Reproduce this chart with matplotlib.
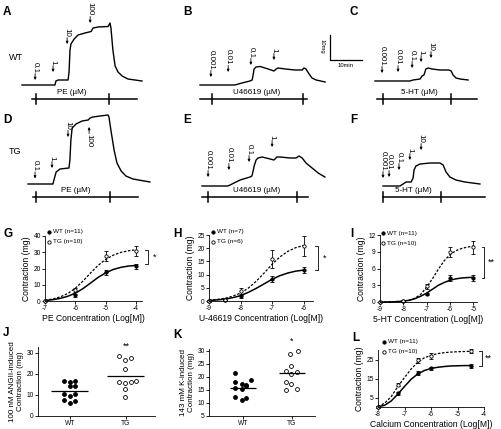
import numpy as np
import matplotlib
matplotlib.use("Agg")
import matplotlib.pyplot as plt
from matplotlib.lines import Line2D

plt.rcParams['font.family'] = ['Liberation Sans', 'DejaVu Sans']
plt.rcParams['axes.unicode_minus'] = False

# ======================= DATA =======================
# Isometric tension traces: time (min) and tension (mg)
pe_wt_t = [0, 10.3, 10.6, 11.3, 14.4, 14.7, 15.0, 15.3, 16.3, 17.5, 19.7, 21.6, 22.2, 23.8, 26.9, 27.5, 27.8, 28.4, 29.1, 30.0, 31.3, 33.1, 35.3, 37.5]
pe_wt_mg = [0, 0, 1.6, 2.0, 2.0, 5.2, 14.0, 16.4, 18.4, 20.0, 20.8, 21.4, 22.8, 23.2, 23.4, 24.8, 22.8, 14.0, 7.6, 5.2, 3.6, 2.4, 2.0, 1.6]
pe_tg_t = [0, 7.8, 8.1, 8.8, 10.0, 12.8, 13.1, 13.4, 13.8, 15.0, 16.9, 18.8, 19.4, 20.3, 22.5, 25.0, 25.3, 25.9, 26.9, 27.8, 29.1, 30.6, 32.8, 38.1]
pe_tg_mg = [0, 0, 1.6, 4.8, 6.0, 6.4, 9.6, 17.6, 22.4, 24.0, 25.2, 25.6, 26.4, 26.8, 27.2, 27.6, 26.8, 21.6, 13.6, 8.4, 5.2, 3.2, 2.0, 0.8]
u_wt_t = [0, 10.9, 13.1, 15.6, 16.3, 16.6, 16.9, 17.5, 18.8, 21.3, 23.1, 23.8, 24.4, 26.6, 29.7, 31.9, 32.5, 33.1, 34.1, 35.0, 36.3, 39.1]
u_wt_mg = [0, 0, 0.8, 1.6, 2.0, 4.0, 6.4, 7.2, 7.4, 6.4, 5.6, 6.4, 6.8, 6.4, 6.0, 6.0, 6.8, 6.4, 4.4, 2.8, 2.0, 1.2]
u_tg_t = [0, 8.1, 9.4, 11.9, 15.0, 15.6, 15.9, 16.3, 16.9, 17.5, 18.8, 21.3, 22.5, 23.4, 24.4, 27.5, 29.4, 30.3, 31.3, 32.5, 34.4, 36.3, 38.4]
u_tg_mg = [0, 0, 0.8, 2.4, 3.6, 4.0, 5.6, 8.0, 10.4, 11.2, 11.6, 10.8, 10.4, 11.6, 11.6, 11.2, 11.2, 12.0, 11.2, 9.2, 7.2, 5.2, 3.6]
ht_wt_t = [0, 10.9, 11.9, 14.1, 14.7, 15.3, 15.6, 15.9, 16.6, 17.8, 20.3, 23.1, 23.8, 24.4, 25.3, 26.6, 29.1]
ht_wt_mg = [0, 0, 0.4, 0.8, 2.0, 2.4, 3.6, 4.8, 5.2, 4.8, 4.4, 4.4, 4.0, 2.4, 1.2, 0.8, 0.4]
ht_tg_t = [0, 5.3, 6.3, 7.2, 8.8, 9.4, 9.7, 10.3, 11.6, 14.7, 17.8, 18.8, 19.7, 20.9, 22.8, 25.6, 30.3]
ht_tg_mg = [0, 0, 0.8, 1.6, 1.6, 3.2, 6.4, 8.0, 8.8, 9.2, 9.2, 8.4, 5.6, 3.6, 2.4, 1.6, 0.8]

# Agonist additions (µM): label, time (min)
pe_wt_doses = ['0.1', '1', '10', '100']
pe_wt_dose_t = [4.1, 9.7, 14.1, 21.3]
pe_tg_doses = ['0.1', '1', '10', '100']
pe_tg_dose_t = [2.2, 7.5, 12.5, 19.1]
u_wt_doses = ['0.001', '0.01', '0.1', '1']
u_wt_dose_t = [3.4, 8.8, 15.9, 23.1]
u_tg_doses = ['0.001', '0.01', '0.1', '1']
u_tg_dose_t = [1.9, 8.4, 14.7, 21.9]
ht_wt_doses = ['0.001', '0.01', '0.1', '1', '10']
ht_wt_dose_t = [2.2, 7.2, 11.6, 14.4, 17.5]
ht_tg_doses = ['0.001', '0.01', '0.1', '1', '10']
ht_tg_dose_t = [0.0, 1.9, 5.0, 8.4, 11.9]

# Concentration-response (mean, SEM)
pe_x = [-7, -6, -5, -4]
pe_wt = [0, 3.5, 17.7, 21.5]
pe_wt_err = [0.3, 1.0, 1.5, 1.5]
pe_tg = [0, 6.9, 27.5, 30.8]
pe_tg_err = [0.3, 1.2, 3.0, 3.2]
pe_fit_x = [-7, -6.75, -6.5, -6.25, -6, -5.75, -5.5, -5.25, -5, -4.75, -4.5, -4.25, -4]
pe_fit_wt = [0.3, 0.8, 1.6, 2.9, 4.8, 7.6, 11.0, 14.5, 17.3, 19.4, 20.7, 21.5, 21.9]
pe_fit_tg = [0.5, 1.2, 2.5, 4.6, 7.8, 12.2, 17.2, 21.9, 25.6, 28.2, 29.9, 30.9, 31.5]

u_x = [-9, -8.5, -8, -7, -6]
u_wt = [0, 0.3, 1.8, 8.3, 11.7]
u_wt_err = [0.2, 0.2, 0.5, 1.2, 1.0]
u_tg = [0, 0.5, 3.8, 15.8, 20.8]
u_tg_err = [0.2, 0.3, 1.0, 3.4, 3.8]
u_fit_x = [-9, -8.75, -8.5, -8.25, -8, -7.75, -7.5, -7.25, -7, -6.75, -6.5, -6.25, -6]
u_fit_wt = [0.2, 0.4, 0.7, 1.25, 2.0, 3.3, 4.8, 6.5, 8.2, 9.6, 10.6, 11.3, 11.7]
u_fit_tg = [0.35, 0.6, 1.0, 1.8, 3.0, 4.9, 7.5, 10.6, 13.9, 16.7, 18.8, 20.2, 21.0]

ht_x = [-9, -8, -7, -6, -5]
ht_wt = [0, 0.1, 1.4, 4.3, 4.3]
ht_wt_err = [0.05, 0.1, 0.2, 0.5, 0.6]
ht_tg = [0, 0.15, 2.8, 9.0, 9.8]
ht_tg_err = [0.05, 0.1, 0.4, 0.9, 1.2]
ht_fit_x = [-9, -8.75, -8.5, -8.25, -8, -7.75, -7.5, -7.25, -7, -6.75, -6.5, -6.25, -6, -5.75, -5.5, -5.25, -5]
ht_fit_wt = [0, 0, 0.03, 0.06, 0.17, 0.3, 0.6, 1.05, 1.6, 2.3, 3.0, 3.5, 3.9, 4.15, 4.3, 4.38, 4.42]
ht_fit_tg = [0, 0.01, 0.04, 0.1, 0.15, 0.35, 0.7, 1.4, 2.7, 4.2, 5.9, 7.4, 8.5, 9.2, 9.6, 9.85, 10.0]

ca_x = [-8, -7.25, -6.5, -6, -4.5]
ca_wt = [0, 7.2, 18.1, 20.3, 21.6]
ca_wt_err = [0.3, 0.8, 1.0, 1.0, 1.2]
ca_tg = [0, 11.7, 24.5, 27.0, 29.3]
ca_tg_err = [0.3, 0.8, 1.2, 1.5, 1.0]
ca_fit_x = [-8, -7.75, -7.5, -7.25, -7, -6.75, -6.5, -6.25, -6, -5.75, -5.5, -5.25, -5, -4.75, -4.5]
ca_fit_wt = [0.1, 0.9, 3.2, 6.8, 10.8, 14.6, 17.4, 19.2, 20.3, 20.9, 21.3, 21.6, 21.7, 21.8, 21.8]
ca_fit_tg = [0.2, 2.0, 5.5, 10.8, 15.5, 20.0, 23.6, 25.9, 27.2, 28.1, 28.6, 28.9, 29.1, 29.2, 29.3]

# Individual responses
groups = ['WT', 'TG']
ang_wt = [16.5, 16.2, 16.6, 14.2, 14.3, 10.5, 10.4, 9.6, 7.7, 7.0, 6.1]
ang_tg = [28.5, 26.5, 27.5, 22.5, 16.2, 15.7, 16.0, 16.6, 12.8, 9.0]
k_wt = [21.4, 17.9, 17.3, 16.9, 18.7, 15.6, 15.2, 12.3, 12.0, 11.0, 16.4]
k_tg = [28.8, 29.8, 24.1, 22.2, 21.3, 22.0, 17.9, 17.2, 15.0, 15.2]

# ======================= LAYOUT =======================
W, H = 501, 429
fig = plt.figure(figsize=(W / 100, H / 100), dpi=100)
fig.patch.set_facecolor('white')
MIN_PX, MG_PX = 3.2, 2.5   # pixels per min / per mg in trace panels


def fx(x):
    return x / W


def fy(y):
    return 1 - y / H


def px_axes(l, t, r, b):
    return fig.add_axes([l / W, 1 - b / H, (r - l) / W, (b - t) / H])


def trace_ax(x0, base, box):
    l, t, r, b = box
    ax = px_axes(l, t, r, b)
    ax.set_xlim((l - x0) / MIN_PX, (r - x0) / MIN_PX)
    ax.set_ylim((base - b) / MG_PX, (base - t) / MG_PX)
    ax.axis('off')
    return ax


def draw_trace(ax, t, mg, doses, dose_t, tips, dirs, bar, bar_label):
    ax.plot(t, mg, color='k', lw=1.0, clip_on=False, solid_joinstyle='round')
    L = 2.6
    for lab, tt, tip, d in zip(doses, dose_t, tips, dirs):
        if d == 'down':
            ax.annotate('', xy=(tt, tip), xytext=(tt, tip + L),
                        arrowprops=dict(arrowstyle='-|>', lw=0.6, color='k',
                                        mutation_scale=3.5, shrinkA=0, shrinkB=0))
            ax.text(tt, tip + L + 0.3, lab, rotation=-90, ha='center', va='bottom',
                    fontsize=5.8)
        else:
            ax.annotate('', xy=(tt, tip), xytext=(tt, tip - L),
                        arrowprops=dict(arrowstyle='-|>', lw=0.6, color='k',
                                        mutation_scale=3.5, shrinkA=0, shrinkB=0))
            ax.text(tt, tip - L - 0.3, lab, rotation=-90, ha='center', va='top',
                    fontsize=5.8)
    t0, t1, ticks, y, lt, ly = bar
    ax.plot([t0, t1], [y, y], color='k', lw=1.1, clip_on=False)
    for tk in ticks:
        ax.plot([tk, tk], [y - 2.0, y + 2.0], color='k', lw=1.1, clip_on=False)
    ax.text(lt, ly, bar_label, ha='center', va='bottom', fontsize=5.8)


# ---- trace panels ----
axA = trace_ax(22, 85, (0, 0, 168, 110))
draw_trace(axA, pe_wt_t, pe_wt_mg, pe_wt_doses, pe_wt_dose_t,
           [2.0, 5.2, 16.4, 24.8], ['down'] * 4,
           (3.1, 35.9, [4.4, 27.2], -5.6, 15.6, -4.6), 'PE (µM)')
axB = trace_ax(200, 85, (170, 0, 370, 110))
draw_trace(axB, u_wt_t, u_wt_mg, u_wt_doses, u_wt_dose_t,
           [3.2, 5.2, 8.0, 10.0], ['down'] * 4,
           (0.0, 33.4, [3.75, 32.2], -5.6, 17.8, -4.6), 'U46619 (µM)')
# scale bar (10 mg, 10 min)
axB.plot([40.6, 40.6, 50.6], [20, 10, 10], color='k', lw=0.9, clip_on=False)
axB.text(38.2, 15.3, '10mg', rotation=-90, ha='center', va='center', fontsize=4.2)
axB.text(45.6, 8.8, '10min', ha='center', va='top', fontsize=4.2)
axC = trace_ax(375, 81, (370, 0, 501, 110))
draw_trace(axC, ht_wt_t, ht_wt_mg, ht_wt_doses, ht_wt_dose_t,
           [3.2, 3.6, 5.2, 7.6, 9.2], ['down'] * 5,
           (0.6, 31.9, [2.5, 23.8], -7.2, 13.8, -6.2), '5-HT (µM)')
axD = trace_ax(28, 184, (0, 112, 168, 212))
draw_trace(axD, pe_tg_t, pe_tg_mg, pe_tg_doses, pe_tg_dose_t,
           [2.2, 6.4, 18.8, 22.8], ['down', 'down', 'down', 'up'],
           (1.6, 34.4, [2.5, 25.6], -5.2, 15.0, -4.2), 'PE (µM)')
axE = trace_ax(202, 186, (170, 112, 340, 212))
draw_trace(axE, u_tg_t, u_tg_mg, u_tg_doses, u_tg_dose_t,
           [3.6, 6.4, 9.6, 15.6], ['down'] * 4,
           (0.0, 33.1, [1.9, 29.7], -4.4, 17.2, -3.4), 'U46619 (µM)')
axF = trace_ax(383, 186, (340, 112, 501, 212))
draw_trace(axF, ht_tg_t, ht_tg_mg, ht_tg_doses, ht_tg_dose_t,
           [3.2, 3.6, 6.4, 10.4, 14.4], ['down'] * 5,
           (0.0, 31.9, [0.0, 18.1], -4.4, 9.4, -3.4), '5-HT (µM)')

fig.text(fx(9), fy(57), 'WT', fontsize=6.5, va='center')
fig.text(fx(9), fy(152), 'TG', fontsize=6.5, va='center')

# ---- panel letters ----
for lab, x, y in [('A', 3, 12), ('B', 183, 12), ('C', 350, 12),
                  ('D', 3, 120), ('E', 183, 120), ('F', 350, 120),
                  ('G', 3, 234), ('H', 173, 234), ('I', 350, 234),
                  ('J', 3, 333), ('K', 173, 335), ('L', 352, 338)]:
    fig.text(fx(x), fy(y), lab, fontsize=8.5, fontweight='bold', va='center', ha='left')


def style(ax):
    for s in ['top', 'right']:
        ax.spines[s].set_visible(False)
    for s in ['left', 'bottom']:
        ax.spines[s].set_linewidth(0.6)
    ax.tick_params(direction='out', length=2, width=0.6, labelsize=4.8, pad=1)


def legend_entry(x, y, filled, text):
    fig.add_artist(Line2D([fx(x)], [fy(y)], marker='o', ms=2.4,
                          mfc='k' if filled else 'white', mec='k', mew=0.6,
                          transform=fig.transFigure))
    fig.text(fx(x + 4), fy(y), text, fontsize=4.6, va='center')


def dr_panel(box, x, wt, wte, tg, tge, fxs, fwt, ftg, xlim, ylim, yticks, xticks,
             xlabel, leg, legxy, bracket, stars):
    ax = px_axes(*box)
    ax.plot(fxs, fwt, color='k', lw=1.1, clip_on=False)
    ax.plot(fxs, ftg, color='k', lw=0.9, ls=(0, (2.0, 1.3)), clip_on=False)
    ax.errorbar(x, wt, yerr=wte, fmt='o', ms=2.4, mfc='k', mec='k', mew=0.6,
                ecolor='k', elinewidth=0.6, capsize=1.4, capthick=0.6, clip_on=False)
    ax.errorbar(x, tg, yerr=tge, fmt='o', ms=2.4, mfc='white', mec='k', mew=0.6,
                ecolor='k', elinewidth=0.6, capsize=1.4, capthick=0.6, clip_on=False)
    ax.set_xlim(*xlim)
    ax.set_ylim(*ylim)
    ax.set_yticks(yticks)
    ax.set_xticks(xticks)
    ax.set_xticklabels([str(v) for v in xticks])
    style(ax)
    ax.set_xlabel(xlabel, fontsize=6.2, labelpad=1.5)
    ax.set_ylabel('Contraction (mg)', fontsize=6.2, labelpad=2)
    lx, ly = legxy
    legend_entry(lx, ly, True, leg[0])
    legend_entry(lx, ly + 10, False, leg[1])
    bx, y1, y2, sx = bracket
    dx = 0.1 * (xlim[1] - xlim[0]) / 3.5
    ax.plot([bx - dx, bx, bx, bx - dx], [y1, y1, y2, y2], color='k', lw=0.6, clip_on=False)
    ax.text(sx, (y1 + y2) / 2, stars, fontsize=6.5, va='center', ha='left')
    return ax


dr_panel((45, 236, 142, 301), pe_x, pe_wt, pe_wt_err, pe_tg, pe_tg_err,
         pe_fit_x, pe_fit_wt, pe_fit_tg, (-7, -3.8), (0, 40), [0, 10, 20, 30, 40],
         [-7, -6, -5, -4], 'PE Concentration (Log[M])',
         ('WT (n=11)', 'TG (n=10)'), (49, 232), (-3.6, 31.2, 22.5, -3.45), '*')
dr_panel((209, 235, 313, 301), u_x, u_wt, u_wt_err, u_tg, u_tg_err,
         u_fit_x, u_fit_wt, u_fit_tg, (-9, -5.7), (0, 25), [0, 5, 10, 15, 20, 25],
         [-9, -8, -7, -6], 'U-46619 Concentration (Log[M])',
         ('WT (n=7)', 'TG (n=6)'), (213, 232), (-5.55, 21.0, 11.7, -5.4), '*')
dr_panel((380, 235, 477, 302), ht_x, ht_wt, ht_wt_err, ht_tg, ht_tg_err,
         ht_fit_x, ht_fit_wt, ht_fit_tg, (-9, -4.85), (0, 12), [0, 3, 6, 9, 12],
         [-9, -8, -7, -6, -5], '5-HT Concentration (Log[M])',
         ('WT (n=11)', 'TG (n=10)'), (383, 233), (-4.53, 9.8, 4.3, -4.4), '**')
dr_panel((378, 350, 484, 407), ca_x, ca_wt, ca_wt_err, ca_tg, ca_tg_err,
         ca_fit_x, ca_fit_wt, ca_fit_tg, (-8, -4), (0, 30), [5, 15, 25],
         [-8, -7, -6, -5, -4], 'Calcium Concentration (Log[M])',
         ('WT (n=11)', 'TG (n=10)'), (384, 342), (-4.08, 29.3, 21.6, -3.98), '**')

# ---- scatter panels ----
ang_wt_off = [-0.1, 0, 0.09, 0, 0.09, -0.1, 0.09, 0, -0.1, 0.09, 0]
ang_tg_off = [-0.12, -0.02, 0.09, -0.02, -0.12, -0.02, 0.09, 0.18, -0.02, -0.02]
k_wt_off = [-0.16, -0.16, -0.02, 0.06, 0.16, -0.16, -0.02, -0.16, 0.06, -0.02, 0.06]
k_tg_off = [-0.04, 0.12, -0.02, -0.12, -0.02, 0.1, -0.12, -0.02, -0.12, 0.1]


def scatter_panel(box, wt, tg, wo, to, xlim, ylim, yticks, ylabel, stars, star_y, half):
    ax = px_axes(*box)
    ax.plot(np.array(wo) + 0, wt, 'o', ms=2.8, mfc='k', mec='k', mew=0.6, ls='none')
    ax.plot(np.array(to) + 1, tg, 'o', ms=2.8, mfc='white', mec='k', mew=0.6, ls='none')
    ax.hlines(np.mean(wt), -half, half, color='k', lw=0.9)
    ax.hlines(np.mean(tg), 1 - half, 1 + half, color='k', lw=0.9)
    ax.set_xlim(*xlim)
    ax.set_ylim(*ylim)
    ax.set_yticks(yticks)
    ax.set_xticks([0, 1])
    ax.set_xticklabels(groups)
    style(ax)
    ax.set_ylabel(ylabel, fontsize=5.8, labelpad=2, linespacing=1.1)
    ax.text(1, star_y, stars, fontsize=6.5, ha='center', va='center')
    return ax


scatter_panel((38, 347, 155, 416), ang_wt, ang_tg, ang_wt_off, ang_tg_off,
              (-0.57, 1.52), (0, 32.7), [0, 10, 20, 30],
              '100 nM ANGII-induced\nContraction (mg)', '**', 33.0, 0.33)
scatter_panel((209, 349, 315, 416), k_wt, k_tg, k_wt_off, k_tg_off,
              (-0.69, 1.47), (5, 30.7), [5, 10, 15, 20, 25, 30],
              '143 mM K-induced\nContraction (mg)', '*', 33.8, 0.27)

fig.savefig('out.png', dpi=100, facecolor='white')
